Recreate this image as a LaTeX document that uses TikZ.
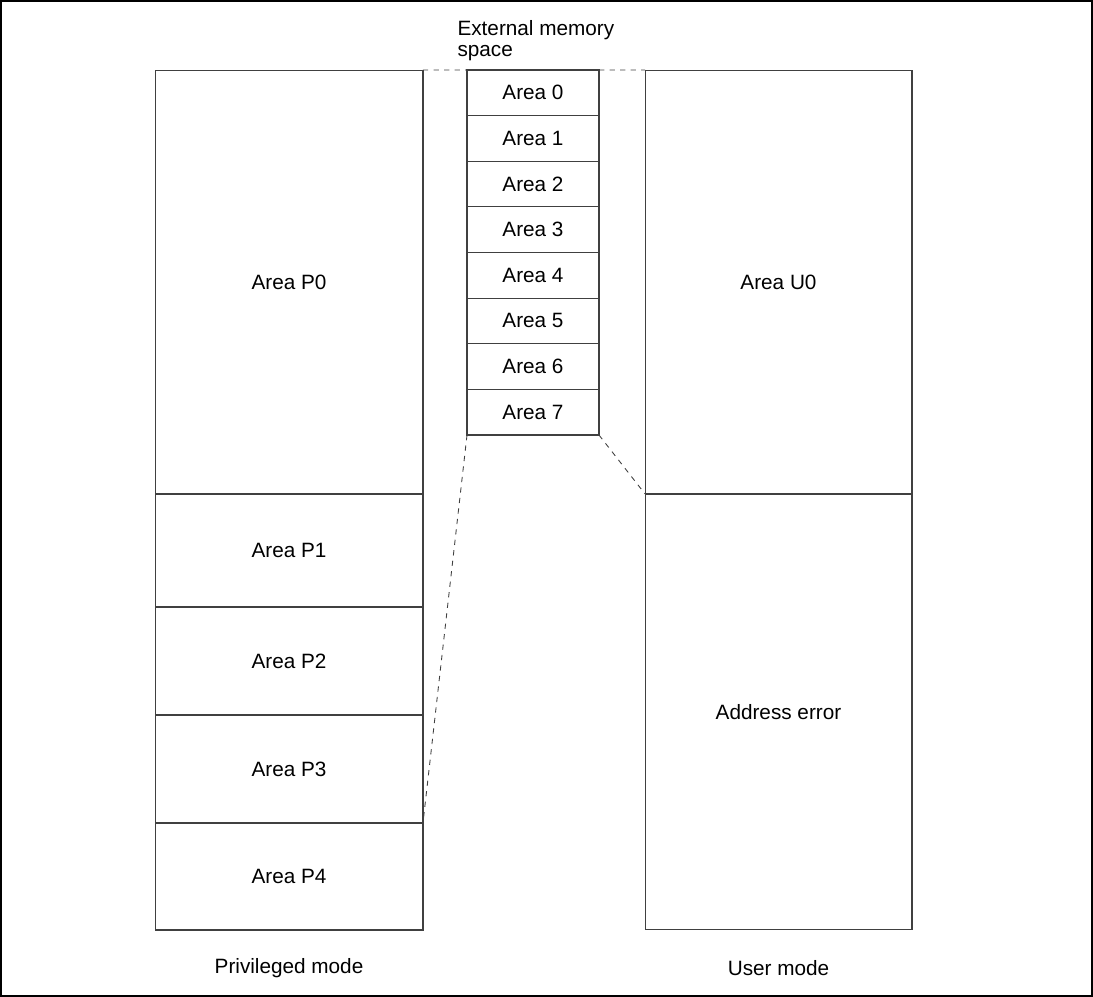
\documentclass[tikz,border=0pt]{standalone}
\usepackage{fontspec}
\setmainfont{Liberation Sans}
\usetikzlibrary{positioning}

\begin{document}
\begin{tikzpicture}[
    x=0.02cm,y=-0.02cm,line width=0.6pt,
    font=\fontsize{11.8}{12}\selectfont,
    areabox/.style={draw=black!75, rectangle, minimum width=5.36cm, inner sep=0pt, outer sep=0pt, align=center},
    extbox/.style={draw=black!75, rectangle, minimum width=2.64cm, minimum height=0.9125cm, inner sep=0pt, outer sep=0pt},
    maplink/.style={draw=black!75, dashed, line width=0.5pt}
]
    \useasboundingbox (0,0) rectangle (1093,997);
    \draw (1,1) rectangle (1092,996);

    % Privileged mode
    \node[areabox, minimum height=8.48cm] (p0) at (289, 282) {Area P0};
    \node[areabox, minimum height=2.26cm] (p1) at (289, 550.5) {Area P1};
    \node[areabox, minimum height=2.16cm] (p2) at (289, 661) {Area P2};
    \node[areabox, minimum height=2.16cm] (p3) at (289, 769) {Area P3};
    \node[areabox, minimum height=2.14cm] (p4) at (289, 876.5) {Area P4};
    \node (priv) at (289, 968) {Privileged mode};

    % External memory space
    \node[anchor=west, align=left, inner sep=0pt] (ext) at (457, 41) {External memory\\space};
    \node[extbox] (a0) at (533, 92.8) {Area 0};
    \node[extbox] (a1) at (533, 138.4) {Area 1};
    \node[extbox] (a2) at (533, 184.1) {Area 2};
    \node[extbox] (a3) at (533, 229.7) {Area 3};
    \node[extbox] (a4) at (533, 275.3) {Area 4};
    \node[extbox] (a5) at (533, 320.9) {Area 5};
    \node[extbox] (a6) at (533, 366.6) {Area 6};
    \node[extbox] (a7) at (533, 412.2) {Area 7};

    % User mode
    \node[areabox, minimum width=5.34cm, minimum height=8.48cm] (u0) at (778.5, 282) {Area U0};
    \node[areabox, minimum width=5.34cm, minimum height=8.72cm] (aerr) at (778.5, 712) {Address error};
    \node (user) at (778.5, 968) {User mode};

    % Mapping
    \draw[maplink] (p0.north east) -- (a0.north west);
    \draw[maplink] (a0.north east) -- (u0.north west);
    \draw[maplink] (a7.south west) -- (p3.south east);
    \draw[maplink] (a7.south east) -- (u0.south west);
\end{tikzpicture}
\end{document}
